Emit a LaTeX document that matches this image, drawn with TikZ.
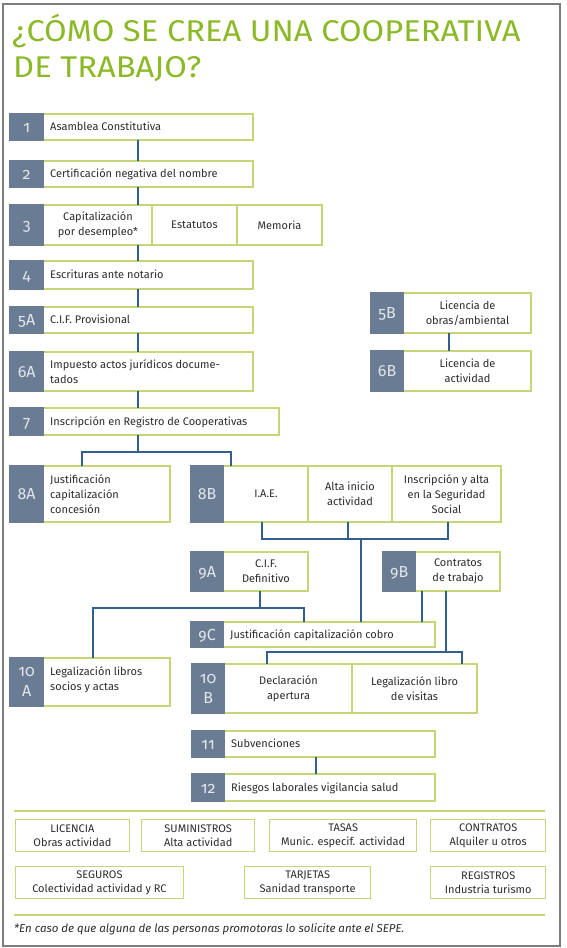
\documentclass[tikz,border=0pt]{standalone}
\usepackage{fontspec}
\setmainfont{Fira Sans}
\newfontfamily\numfont[Numbers=OldStyle]{Fira Sans}
\definecolor{titlegreen}{RGB}{140,185,40}
\definecolor{boxgreen}{RGB}{196,214,120}
\definecolor{numblue}{RGB}{106,124,148}
\definecolor{numwhite}{RGB}{225,230,236}
\definecolor{linkblue}{RGB}{50,95,140}
\definecolor{txtgray}{RGB}{45,45,45}
\definecolor{framegray}{RGB}{125,125,125}
\newcommand\bodysize{\fontsize{11}{15}\selectfont}
\newcommand\mkstep[8]{%
  \pgfmathsetmacro\mkw{#4-#2}\pgfmathsetmacro\mkh{#5-#3}%
  \pgfmathsetmacro\mknh{\mkh+1.3}\pgfmathsetmacro\mknw{#6+0.65}%
  \node[boxb, minimum width=\mkw pt, minimum height=\mkh pt] (#1) at (#2,#3) {};
  \node[numsq, minimum width=\mknw pt, minimum height=\mknh pt, #8] (#1n) at ({#2-0.65},{#3-0.65}) {#7};
}
\tikzset{
  frame/.style={draw=framegray, line width=1.3pt},
  boxb/.style={draw=boxgreen, line width=1.4pt, fill=white, anchor=north west, inner sep=0pt, outer sep=0pt},
  numsq/.style={fill=numblue, anchor=north west, inner sep=0pt, outer sep=0pt, text=numwhite,
     font=\numfont\fontsize{16}{20}\selectfont, align=center, text height=11pt, text depth=0pt},
  lbl/.style={anchor=west, inner sep=0pt, text=txtgray, font=\bodysize, align=left},
  one/.style={text height=7.5pt, text depth=0pt},
  clbl/.style={anchor=center, inner sep=0pt, text=txtgray, font=\bodysize, align=center},
  divl/.style={draw=boxgreen, line width=1.4pt},
  conn/.style={draw=linkblue, line width=1.1pt},
  smallbox/.style={draw=boxgreen, line width=1.4pt, anchor=north west, inner sep=0pt, align=center,
     text=txtgray, font=\fontsize{11}{14.5}\selectfont, minimum height=32pt},
  sepline/.style={draw=boxgreen, line width=1.3pt},
  ttl/.style={anchor=base west, inner sep=0pt, text=titlegreen, font=\fontsize{30}{30}\selectfont}
}
\begin{document}
\begin{tikzpicture}[x=1pt,y=-1pt]
\useasboundingbox (0,0) rectangle (566,948);
\draw[frame] (3,4) rectangle (560,946);
% title
\node[ttl] (title1) at (12,41) {\scalebox{1.09}[1]{¿CÓMO SE CREA UNA COOPERATIVA}};
\node[ttl] (title2) at (13,77) {\scalebox{1.09}[1]{DE TRABAJO?}};
% steps
\mkstep{b1}{10}{114}{253}{140}{34}{1}{}
\mkstep{b2}{10}{161}{253}{187}{34}{2}{}
\mkstep{b3}{10}{205}{322}{245}{34}{3}{}
\mkstep{b4}{10}{261}{253}{289}{34}{4}{}
\mkstep{b5a}{10}{307}{253}{333}{34}{5A}{}
\mkstep{b6a}{10}{352}{253}{391}{34}{6A}{}
\mkstep{b7}{10}{408}{279}{435}{34}{7}{}
\mkstep{b5b}{371}{293}{531}{333}{33}{5B}{}
\mkstep{b6b}{371}{351}{531}{391}{33}{6B}{}
\mkstep{b8a}{10}{466}{170}{522}{34}{8A}{}
\mkstep{b8b}{191}{466}{501}{522}{33}{8B}{}
\mkstep{b9a}{191}{552}{308}{591}{33}{9A}{}
\mkstep{b9b}{383}{552}{500}{591}{33}{9B}{}
\mkstep{b9c}{191}{622}{435}{647}{33}{9C}{}
\mkstep{b10a}{10}{658}{170}{706}{34}{10\\A}{text height={}, text depth={}}
\mkstep{b10b}{192}{664}{477}{713}{33}{10\\B}{text height={}, text depth={}}
\mkstep{b11}{192}{731}{435}{757}{33}{11}{}
\mkstep{b12}{192}{774}{435}{801}{33}{12}{}
% dividers
\draw[divl] (152,205) -- (152,245);
\draw[divl] (237,205) -- (237,245);
\draw[divl] (308,466) -- (308,522);
\draw[divl] (392,466) -- (392,522);
\draw[divl] (352,664) -- (352,713);
% texts
\node[lbl, one] (t1) at ([xshift=6pt]b1n.east) {Asamblea Constitutiva};
\node[lbl, one] (t2) at ([xshift=6pt]b2n.east) {Certificación negativa del nombre};
\node[clbl] (t3a) at (98,225) {Capitalización\\por desempleo*};
\node[clbl] (t3b) at (194.5,225) {Estatutos};
\node[clbl] (t3c) at (279.5,225) {Memoria};
\node[lbl, one] (t4) at ([xshift=6pt]b4n.east) {Escrituras ante notario};
\node[lbl, one] (t5a) at ([xshift=6pt]b5an.east) {C.I.F. Provisional};
\node[lbl] (t6a) at ([xshift=6pt]b6an.east) {Impuesto actos jurídicos docume-\\tados};
\node[lbl, one] (t7) at ([xshift=6pt]b7n.east) {Inscripción en Registro de Cooperativas};
\node[clbl] (t5b) at (467.5,313) {Licencia de\\obras/ambiental};
\node[clbl] (t6b) at (467.5,371) {Licencia de\\actividad};
\node[lbl] (t8a) at ([xshift=6pt]b8an.east) {Justificación\\capitalización\\concesión};
\node[clbl] (t8b1) at (266,494) {I.A.E.};
\node[clbl] (t8b2) at (350,494) {Alta inicio\\actividad};
\node[clbl] (t8b3) at (446.5,494) {Inscripción y alta\\en la Seguridad\\Social};
\node[clbl] (t9a) at (266,571.5) {C.I.F.\\Definitivo};
\node[clbl] (t9b) at (458,571.5) {Contratos\\de trabajo};
\node[lbl, one] (t9c) at ([xshift=6pt]b9cn.east) {Justificación capitalización cobro};
\node[lbl] (t10a) at ([xshift=6pt,yshift=2pt]b10an.east) {Legalización libros\\socios y actas};
\node[clbl] (t10b1) at (288.5,688.5) {Declaración\\apertura};
\node[clbl] (t10b2) at (414.5,688.5) {Legalización libro\\de visitas};
\node[lbl, one] (t11) at ([xshift=6pt]b11n.east) {Subvenciones};
\node[lbl, one] (t12) at ([xshift=6pt]b12n.east) {Riesgos laborales vigilancia salud};
% connector coordinates
\coordinate (xa) at (138,0);
\coordinate (xs) at (449,0);
\coordinate (j7) at (138,452);
\coordinate (j7a) at (82,452);
\coordinate (j7b) at (231,452);
\coordinate (k1) at (262,539);
\coordinate (k2) at (348,539);
\coordinate (k3) at (448,539);
\coordinate (k4) at (361,539);
\coordinate (m0) at (260,608);
\coordinate (m1) at (93,608);
\coordinate (m2) at (304,608);
\coordinate (p1) at (422,0);
\coordinate (q0) at (446,652);
\coordinate (q1) at (267,652);
\coordinate (q2) at (462,652);
\coordinate (xr) at (316,0);
% connectors
\draw[conn] (b1.south -| xa) -- (b2.north -| xa);
\draw[conn] (b2.south -| xa) -- (b3.north -| xa);
\draw[conn] (b3.south -| xa) -- (b4.north -| xa);
\draw[conn] (b4.south -| xa) -- (b5a.north -| xa);
\draw[conn] (b5a.south -| xa) -- (b6a.north -| xa);
\draw[conn] (b6a.south -| xa) -- (b7.north -| xa);
\draw[conn] (b5b.south -| xs) -- (b6b.north -| xs);
\draw[conn] (b7.south -| j7) -- (j7);
\draw[conn] (b8a.north -| j7a) -- (j7a) -- (j7b) -- (b8b.north -| j7b);
\draw[conn] (b8b.south -| k1) -- (k1) -- (k3) -- (b8b.south -| k3);
\draw[conn] (b8b.south -| k2) -- (k2);
\draw[conn] (k4) -- (b9c.north -| k4);
\draw[conn] (b9a.south -| m0) -- (m0);
\draw[conn] (b10a.north -| m1) -- (m1) -- (m2) -- (b9c.north -| m2);
\draw[conn] (b9b.south -| p1) -- (b9c.north -| p1);
\draw[conn] (b9b.south -| q0) -- (q0);
\draw[conn] (b10b.north -| q1) -- (q1) -- (q2) -- (b10b.north -| q2);
\draw[conn] (b11.south -| xr) -- (b12.north -| xr);
% bottom section
\draw[sepline] (14,811) -- (545,811);
\node[smallbox, minimum width=114.5pt] (r1a) at (14.5,819) {LICENCIA\\Obras actividad};
\node[smallbox, minimum width=113pt] (r1b) at (141,819) {SUMINISTROS\\Alta actividad};
\node[smallbox, minimum width=147pt] (r1c) at (269,819) {TASAS\\Munic. especif. actividad};
\node[smallbox, minimum width=115pt] (r1d) at (430,819) {CONTRATOS\\Alquiler u otros};
\node[smallbox, minimum width=168.5pt] (r2a) at (14.5,866) {SEGUROS\\Colectividad actividad y RC};
\node[smallbox, minimum width=126pt] (r2b) at (244,866) {TARJETAS\\Sanidad transporte};
\node[smallbox, minimum width=115pt] (r2c) at (430,866) {REGISTROS\\Industria turismo};
\draw[sepline] (14,915) -- (545,915);
\node[anchor=west, inner sep=0pt, text=txtgray, font=\itshape\fontsize{11.5}{13}\selectfont] (fn) at (14,929) {*En caso de que alguna de las personas promotoras lo solicite ante el SEPE.};
\end{tikzpicture}
\end{document}
